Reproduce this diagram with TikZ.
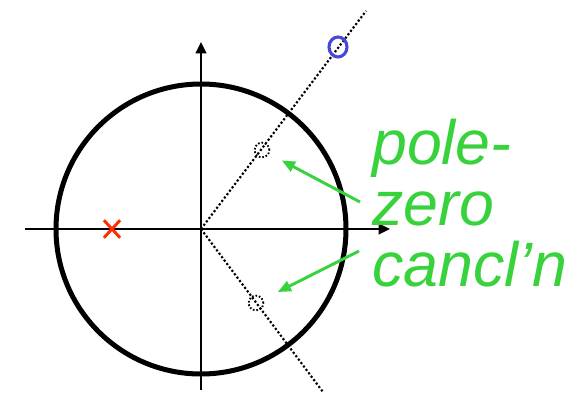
\documentclass[tikz,border=0pt]{standalone}
\usepackage{fontspec}
\newfontfamily\labelfont{Liberation Sans}
\usetikzlibrary{positioning, arrows.meta, shapes.geometric, shapes.misc}
\definecolor{polecol}{RGB}{255,45,0}
\definecolor{zerocol}{RGB}{70,70,220}
\definecolor{notecol}{RGB}{55,210,60}

\begin{document}
\begin{tikzpicture}[
  x=0.75pt, y=0.75pt,
  axis/.style={-{Triangle[length=8.5pt,width=8pt]}, black, line width=1.5pt},
  unitcirc/.style={draw, black, line width=3.75pt},
  ray/.style={black, line width=1.6pt, dash pattern=on 1.6pt off 1.6pt},
  polemark/.style={cross out, draw=polecol, line width=2.2pt, inner sep=0pt,
                   minimum width=10pt, minimum height=11pt},
  zeromark/.style={ellipse, draw=zerocol, line width=2.3pt, inner sep=0pt,
                   minimum width=13.5pt, minimum height=15pt},
  cancmark/.style={circle, draw, black, line width=1.4pt,
                   dash pattern=on 1.2pt off 1.4pt, inner sep=0pt, minimum size=11pt},
  note/.style={font=\labelfont\itshape\fontsize{47}{45.5}\selectfont,
               text=notecol, align=left, inner sep=0pt},
  noteArrow/.style={-{Triangle[length=10pt,width=8pt]}, notecol, line width=2.2pt},
]
\useasboundingbox (-201,-164) rectangle (376,229);

% --- Axes ---
\coordinate (O) at (0,0);
\draw[axis] (-176,0) -- (189,0);
\draw[axis] (0,-161) -- (0,187);

% --- Unit circle ---
\draw[unitcirc] (O) circle (145);

% --- Rays through the cancelled pair ---
\draw[ray] (O) -- (165,218);
\draw[ray] (O) -- (122,-163);

% --- Pole and zero ---
\node[polemark] (pole) at (-89,0) {};
\node[zeromark] (zero) at (137,182) {};
\node[cancmark] (canA) at (61,79) {};
\node[cancmark] (canB) at (55,-74) {};

% --- Annotation ---
\node[note, anchor=north west] (note) at (171,110) {pole-\\zero\\cancl’n};
\coordinate (fromA) at (159,27);
\coordinate (fromB) at (158,-22);
\draw[noteArrow, shorten >=10.5pt] (fromA) -- (canA);
\draw[noteArrow, shorten >=12pt] (fromB) -- (canB);

\end{tikzpicture}
\end{document}
